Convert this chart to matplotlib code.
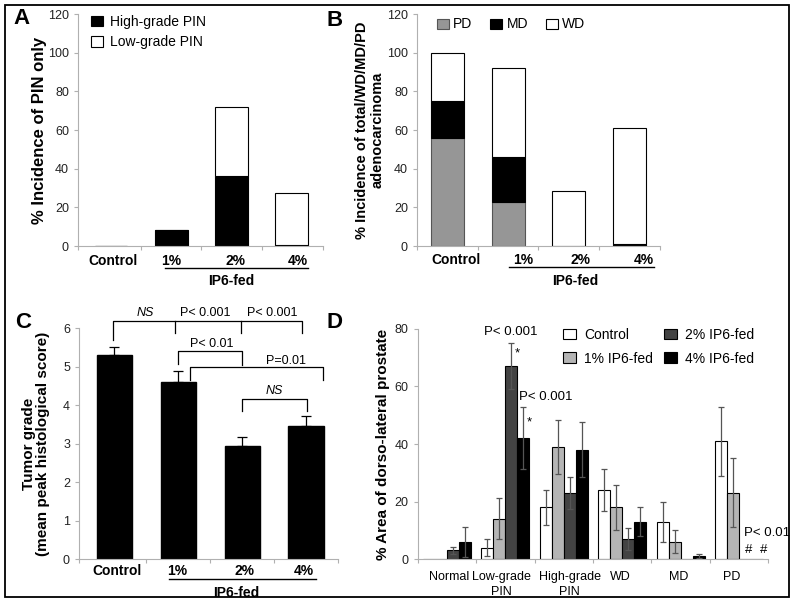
import numpy as np
import matplotlib
matplotlib.use("Agg")
import matplotlib.pyplot as plt
from matplotlib.patches import Rectangle

plt.rcParams['font.family'] = ['Liberation Sans', 'DejaVu Sans']

# ---- data ----
groups = ["Control", "1%", "2%", "4%"]

# panel A: % incidence of PIN only
a_high = [0, 8.3, 36, 0.5]
a_low = [0, 0, 36, 26.8]

# panel B: % incidence of adenocarcinoma
b_pd = [56, 23, 0, 0]
b_md = [19, 23, 0, 0.8]
b_wd = [25, 46, 28.5, 60]

# panel C: tumor grade
c_mean = [5.31, 4.59, 2.95, 3.46]
c_err = [0.21, 0.29, 0.21, 0.27]

# panel D: % area of dorso-lateral prostate
d_cats = ["Normal", "Low-grade\nPIN", "High-grade\nPIN", "WD", "MD", "PD"]
d_series = ["Control", "1% IP6-fed", "2% IP6-fed", "4% IP6-fed"]
d_vals = [
    [0, 4, 18, 24, 13, 41],
    [0, 14, 39, 18, 6, 23],
    [3, 67, 23, 7, 0, 0],
    [6, 42, 38, 13, 1, 0],
]
d_errs = [
    [0, 2.9, 6, 7.3, 7, 12],
    [0, 7.2, 9.3, 7.8, 4, 12],
    [1.2, 8, 5.5, 3.8, 0, 0],
    [5.3, 10.7, 9.5, 5, 0.6, 0],
]
d_colors = ["white", "#b5b5b5", "#434343", "black"]

AXC = "#b0b0b0"
TXC = "#222222"

fig = plt.figure(figsize=(7.95, 6.04), dpi=100)
fig.patches.append(Rectangle((0.0063, 0.0116), 0.9862, 0.98, transform=fig.transFigure,
                             fill=False, edgecolor="black", linewidth=1.3))


def style(ax):
    for s in ["top", "right"]:
        ax.spines[s].set_visible(False)
    for s in ["left", "bottom"]:
        ax.spines[s].set_color(AXC)
        ax.spines[s].set_linewidth(0.8)
    ax.tick_params(colors=AXC, labelcolor=TXC, labelsize=9, length=3, width=0.8)


def group_labels(ax, xs, ys):
    tr = ax.get_xaxis_transform()
    for name, x in zip(groups, xs):
        ax.text(x, ys[0], name, transform=tr, ha="center", va="center",
                fontsize=10, fontweight="bold")
    ax.plot([xs[4], xs[5]], [ys[1], ys[1]], transform=tr, color="black",
            linewidth=1, clip_on=False)
    ax.text(xs[6], ys[2], "IP6-fed", transform=tr, ha="center", va="center",
            fontsize=10, fontweight="bold")


x = np.arange(4)
w = 0.54

# ---- panel A ----
axA = fig.add_axes([0.0981, 0.5927, 0.3082, 0.3841])
style(axA)
hA = axA.bar(x, a_high, w, color="black", edgecolor="black", linewidth=0.8, label="High-grade PIN")
lA = axA.bar(x, a_low, w, bottom=a_high, color="white", edgecolor="black", linewidth=0.8,
             label="Low-grade PIN")
axA.set_xlim(-0.55, 3.52)
axA.set_ylim(0, 120)
axA.set_yticks(range(0, 121, 20))
axA.set_xticks([-0.55, 0.5, 1.5, 2.5, 3.52])
axA.set_xticklabels([])
axA.set_ylabel("% Incidence of PIN only", fontsize=12, fontweight="bold", labelpad=1)
group_labels(axA, [0.03, 0.99, 2.07, 3.1, 0.9, 3.27, 2.0], [-0.063, -0.096, -0.151])
axA.legend(handles=[hA, lA], loc="upper left", bbox_to_anchor=(0.055, 0.995), frameon=False,
           fontsize=10, handlelength=0.85, handleheight=0.75, handletextpad=0.5,
           labelspacing=0.45, borderpad=0, borderaxespad=0)

# ---- panel B ----
axB = fig.add_axes([0.5245, 0.5927, 0.3057, 0.3841])
style(axB)
pd_ = axB.bar(x, b_pd, w, color="#969696", edgecolor="#555555", linewidth=0.8, label="PD")
bot = np.array(b_pd)
md_ = axB.bar(x, b_md, w, bottom=bot, color="black", edgecolor="black", linewidth=0.8, label="MD")
bot = bot + np.array(b_md)
wd_ = axB.bar(x, b_wd, w, bottom=bot, color="white", edgecolor="black", linewidth=0.8, label="WD")
axB.set_xlim(-0.5, 3.5)
axB.set_ylim(0, 120)
axB.set_yticks(range(0, 121, 20))
axB.set_xticks([-0.5, 0.5, 1.5, 2.5, 3.5])
axB.set_xticklabels([])
axB.set_ylabel("% Incidence of total/WD/MD/PD\nadenocarcinoma", fontsize=10.5,
               fontweight="bold", labelpad=2, linespacing=1.1)
group_labels(axB, [0.15, 1.24, 2.19, 3.23, 1.02, 3.4, 2.1], [-0.06, -0.089, -0.151])
axB.legend(handles=[pd_, md_, wd_], loc="upper left", bbox_to_anchor=(0.083, 0.985), ncol=3,
           frameon=False, fontsize=10, handlelength=0.85, handleheight=0.75,
           handletextpad=0.3, columnspacing=1.3, borderpad=0, borderaxespad=0)

# ---- panel C ----
axC = fig.add_axes([0.0994, 0.0745, 0.3258, 0.382])
style(axC)
axC.bar(x, c_mean, 0.55, color="black", edgecolor="black",
        yerr=[[0] * 4, c_err], error_kw=dict(ecolor="black", elinewidth=0.9, capsize=3.5, capthick=0.9))
axC.set_xlim(-0.55, 3.5)
axC.set_ylim(0, 6)
axC.set_yticks(range(0, 7))
axC.set_xticks([-0.55, 0.5, 1.5, 2.5, 3.5])
axC.set_xticklabels([])
axC.set_ylabel("Tumor grade\n(mean peak histological score)", fontsize=11,
               fontweight="bold", labelpad=9, linespacing=1.05)
group_labels(axC, [0.05, 0.99, 2.03, 2.97, 0.85, 3.16, 1.91], [-0.051, -0.088, -0.149])


def bracket(ax, x0, x1, y, d0, d1, label, lx, ly, italic=False):
    ax.plot([x0, x0, x1, x1], [d0, y, y, d1], color="black", linewidth=0.9, clip_on=False)
    ax.text(lx, ly, label, ha="center", va="center", fontsize=9,
            fontstyle="italic" if italic else "normal", clip_on=False)


axC.plot([-0.02, -0.02, 2.93, 2.93], [5.70, 6.19, 6.19, 5.89], color="black", linewidth=0.9,
         clip_on=False)
axC.plot([0.95, 0.95], [6.19, 5.89], color="black", linewidth=0.9, clip_on=False)
axC.plot([1.99, 1.99], [6.19, 5.89], color="black", linewidth=0.9, clip_on=False)
axC.text(0.49, 6.41, "NS", ha="center", va="center", fontsize=9, fontstyle="italic")
axC.text(1.43, 6.41, "P< 0.001", ha="center", va="center", fontsize=9)
axC.text(2.47, 6.41, "P< 0.001", ha="center", va="center", fontsize=9)
bracket(axC, 1.0, 2.0, 5.40, 5.08, 5.05, "P< 0.01", 1.53, 5.6)
bracket(axC, 1.19, 3.27, 4.99, 4.66, 4.66, "P=0.01", 2.68, 5.14)
bracket(axC, 2.0, 3.01, 4.17, 3.86, 3.86, "NS", 2.5, 4.37, italic=True)

# ---- panel D ----
axD = fig.add_axes([0.5254, 0.0745, 0.441, 0.3808])
style(axD)
xd = np.arange(len(d_cats))
bw = 0.205
handles = []
for i, (name, vals, errs, col) in enumerate(zip(d_series, d_vals, d_errs, d_colors)):
    pos = xd + (i - 1.5) * bw
    h = axD.bar(pos, vals, bw, color=col, edgecolor="black", linewidth=0.8, label=name)
    handles.append(h)
    mask = np.array(errs) > 0
    axD.errorbar(pos[mask], np.array(vals)[mask], yerr=np.array(errs)[mask], fmt="none",
                 ecolor="#555555", elinewidth=0.9, capsize=2.5, capthick=0.9)
axD.set_xlim(-0.5, len(d_cats) - 0.5)
axD.set_ylim(0, 80)
axD.set_yticks(range(0, 81, 20))
axD.set_xticks(np.arange(-0.5, len(d_cats), 1.0))
axD.set_xticklabels([])
trD = axD.get_xaxis_transform()
label_shift = [0.03, -0.07, 0.1, -0.04, -0.04, -0.12]
for xc, dx, name in zip(xd, label_shift, d_cats):
    axD.text(xc + dx, -0.052, name, transform=trD, ha="center", va="top", fontsize=9,
             linespacing=1.3)
axD.set_ylabel("% Area of dorso-lateral prostate", fontsize=11, fontweight="bold", labelpad=3)
axD.legend(handles=handles, loc="upper left", bbox_to_anchor=(0.415, 1.005), ncol=2,
           frameon=False, fontsize=10, handlelength=0.9, handleheight=0.8,
           handletextpad=0.6, columnspacing=0.8, labelspacing=0.7, borderpad=0, borderaxespad=0)
axD.text(1.1, 79, "P< 0.001", ha="center", va="center", fontsize=9.5, clip_on=False)
axD.text(1.21, 71.5, "*", ha="center", va="center", fontsize=9.5)
axD.text(1.69, 56.5, "P< 0.001", ha="center", va="center", fontsize=9.5)
axD.text(1.41, 47.4, "*", ha="center", va="center", fontsize=9.5)
axD.text(5.48, 8.9, "P< 0.01", ha="center", va="center", fontsize=9.5, clip_on=False)
axD.text(5.16, 3.1, "#", ha="center", va="center", fontsize=9.5)
axD.text(5.42, 3.1, "#", ha="center", va="center", fontsize=9.5)

# panel letters
for lab, (fx, fy) in zip("ABCD", [(21, 18), (335, 20), (23, 323), (335, 323)]):
    fig.text(fx / 795, 1 - fy / 604, lab, ha="center", va="center", fontsize=16, fontweight="bold")

fig.savefig("out.png", dpi=100)
